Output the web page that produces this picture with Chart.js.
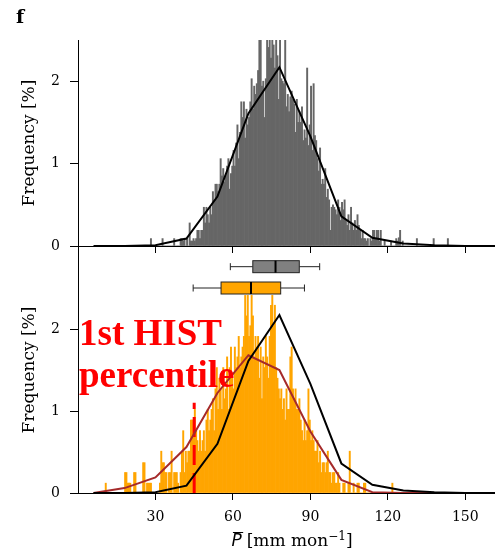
<!DOCTYPE html>
<html>
<head>
<meta charset="utf-8">
<script src="https://cdn.jsdelivr.net/npm/chart.js@4.4.1/dist/chart.umd.min.js"></script>
<style>
    body { margin: 0; background: #fff; }
    #wrap { position: relative; width: 495px; height: 552px; }
    canvas { position: absolute; left: 0; }
    #histTop { top: 0; }
    #histBottom { top: 246px; }
</style>
</head>
<body>
<div id="wrap">
    <canvas id="histTop" width="495" height="262"></canvas>
    <canvas id="histBottom" width="495" height="306"></canvas>
</div>
<script>
// histogram bins (mm/mon), 0.5 wide
const binWidth = 0.5;
const histStart = 27;
const futStart = 10;

// HIST frequencies [%]
const histFreq = [
    0,0, 0.09,0, 0,0, 0,0, 0,0, 0,0.09, 0,0, 0,0, 0,0, 0,0,
    0.09,0, 0,0, 0,0.09, 0.09,0.06, 0.09,0, 0.09,0, 0.28,0.06, 0.06,0.09, 0.06,0.09, 0.19,0.19,
    0.09,0.19, 0.19,0.47, 0.28,0.47, 0.38,0.28, 0.47,0.38, 0.66,0.56, 0.75,0.75, 0.66,0.75, 1.06,0.85, 0.94,0.78,
    0.85,0.97, 1.06,0.69, 0.88,0.97, 1.16,0.97, 1.25,1.47, 1.06,1.38, 1.75,1.56, 1.75,1.31, 1.66,1.47, 1.56,1.75,
    2.03,1.66, 1.94,1.84, 1.97,2.13, 2.5,2.5, 1.94,2.0, 1.56,2.03, 2.5,2.41, 2.5,2.28, 2.5,2.44, 2.16,2.5,
    2.31,1.78, 2.5,2.03, 2.0,1.97, 2.5,1.69, 1.84,1.63, 1.81,1.88, 1.78,1.72, 1.38,1.78, 1.5,1.63, 1.5,1.69,
    1.28,1.41, 1.31,2.16, 1.22,1.47, 1.94,1.16, 1.97,1.34, 1.28,1.06, 0.91,1.19, 0.75,0.81, 0.75,0.94, 0.59,0.69,
    0.56,0.19, 0.47,0.5, 0.47,0.44, 0.38,0.56, 0.47,0.31, 0.53,0.44, 0.56,0.31, 0.25,0.38, 0.19,0.47, 0.28,0.19,
    0.31,0.19, 0.38,0.25, 0.19,0.09, 0.19,0.09, 0.09,0.06, 0.09,0, 0.09,0.06, 0.19,0.19, 0.09,0.19, 0.19,0.06,
    0.19,0, 0,0.06, 0,0, 0,0, 0.06,0, 0,0, 0.09,0.06, 0.1,0.19, 0,0.06, 0,0,
    0,0, 0,0, 0,0, 0,0, 0.09,0, 0,0, 0,0, 0,0, 0,0, 0,0,
    0,0.09, 0,0, 0,0, 0,0, 0,0, 0,0, 0.09,0
];

// future frequencies [%]
const futFreq = [
    0,0.12, 0,0, 0,0, 0,0, 0,0, 0,0, 0,0, 0,0, 0.25,0.25, 0.12,0.12,
    0.12,0, 0,0.25, 0.25,0, 0,0, 0,0, 0.37,0.37, 0,0.12, 0.12,0.12, 0.12,0, 0,0,
    0,0, 0,0.12, 0.51,0.37, 0.37,0.25, 0.25,0, 0.25,0.25, 0.51,0, 0.25,0.25, 0.25,0.12, 0,0.25,
    0.51,0.76, 0.25,0.51, 0.37,0.51, 0.51,0.89, 0.89,0.89, 1.02,0.76, 0.64,0.51, 0.76,0.51, 0.64,0.76, 0.51,0.89,
    1.02,0.76, 0.89,1.02, 1.15,0.76, 1.27,1.53, 1.02,1.4, 1.27,1.02, 1.53,1.15, 1.27,1.66, 1.02,1.53, 1.78,1.4,
    1.27,1.78, 1.53,1.66, 1.91,1.53, 1.66,1.78, 1.91,2.41, 2.16,2.41, 1.91,2.04, 2.41,2.16, 1.66,1.91, 1.78,1.91,
    1.4,1.78, 1.15,1.66, 1.53,1.91, 1.66,1.4, 1.91,2.29, 2.41,2.04, 2.29,1.53, 1.4,1.27, 1.15,1.27, 1.02,1.15,
    0.89,1.27, 1.02,1.02, 1.66,1.78, 1.27,1.15, 1.27,1.02, 1.02,1.15, 0.89,0.76, 0.64,0.89, 0.64,0.76, 1.27,0.89,
    0.64,0.76, 0.64,0.51, 0.51,0.64, 0.37,0.51, 0.25,0.37, 0.37,0.25, 0.37,0.51, 0.25,0.25, 0.12,0.25, 0.25,0.12,
    0.12,0.25, 0.12,0, 0,0.12, 0.12,0, 0,0.12, 0.51,0, 0,0.12, 0,0, 0.12,0.12, 0,0,
    0,0.12, 0.12,0, 0,0, 0,0, 0,0, 0,0, 0,0, 0,0, 0,0, 0,0,
    0,0, 0,0.12
];

// coarse frequency curves
const curveX = [6, 18, 30, 42, 54, 66, 78, 90, 102, 114, 126, 138, 150, 162];
const histCurve = [0, 0, 0.01, 0.09, 0.6, 1.61, 2.17, 1.33, 0.36, 0.1, 0.03, 0.01, 0, 0];
const futCurve = [0, 0.06, 0.19, 0.56, 1.22, 1.68, 1.5, 0.75, 0.16, 0.01, 0, 0, 0, 0];

// boxplots: whisker low, q1, median, q3, whisker high
const boxHist = [59, 67.7, 76.5, 85.7, 93.6];
const boxFut = [44.6, 55.4, 67, 78.5, 87.7];
const boxLevels = [2.76, 2.5];

// 1st percentile of HIST
const p1X = 45;
const p1Top = 1.1;

const xTicks = [30, 60, 90, 120, 150];
const yTicks = [0, 1, 2];

const serif = 'DejaVu Serif';

function histPoints(start, freq) {
    return freq.map((v, i) => ({ x: start + (i + 0.5) * binWidth, y: v }));
}
function curvePoints(vals) {
    return curveX.map((x, i) => ({ x: x, y: vals[i] }));
}

function yAxis(max) {
    return {
        min: 0,
        max: max,
        afterBuildTicks: s => { s.ticks = yTicks.map(v => ({ value: v })); },
        afterFit: s => {
            s.width = 78;
            s.paddingTop = 0;
            s.paddingBottom = 0;
        },
        border: { color: '#000', width: 1 },
        grid: { drawOnChartArea: false, tickLength: 8, tickColor: '#000' },
        ticks: { color: '#000', padding: 10, font: { family: serif, size: 14 } },
        title: {
            display: true,
            text: 'Frequency [%]',
            color: '#000',
            font: { family: serif, size: 17 },
            padding: { top: 19, bottom: 0 }
        }
    };
}

function xAxis(height, showLabels) {
    return {
        type: 'linear',
        min: 0,
        max: 161.5,
        offset: false,
        afterBuildTicks: s => { s.ticks = xTicks.map(v => ({ value: v })); },
        afterFit: s => {
            s.height = height;
            s.paddingLeft = 0;
            s.paddingRight = 0;
        },
        border: { color: '#000', width: 1 },
        grid: { drawOnChartArea: false, offset: false, tickLength: 7, tickColor: '#000' },
        ticks: { display: showLabels, color: '#000', padding: 9, maxRotation: 0, font: { family: serif, size: 14 } }
    };
}

const baseOptions = {
    animation: false,
    responsive: false,
    devicePixelRatio: 1,
    plugins: { legend: { display: false }, tooltip: { enabled: false } }
};

const panelLabel = {
    id: 'panelLabel',
    afterDraw(chart) {
        const ctx = chart.ctx;
        ctx.save();
        ctx.fillStyle = '#000';
        ctx.font = 'bold 19px "DejaVu Serif"';
        ctx.textBaseline = 'alphabetic';
        ctx.fillText('f', 16, 23);
        ctx.restore();
    }
};

new Chart(document.getElementById('histTop'), {
    type: 'bar',
    data: {
        datasets: [
            {
                type: 'line',
                data: curvePoints(histCurve),
                borderColor: '#000',
                borderWidth: 2,
                pointRadius: 0,
                tension: 0,
                order: 1
            },
            {
                type: 'bar',
                data: histPoints(histStart, histFreq),
                backgroundColor: '#666666',
                borderWidth: 0,
                barPercentage: 1,
                categoryPercentage: 1,
                order: 2
            }
        ]
    },
    options: Object.assign({}, baseOptions, {
        layout: { padding: { top: 40, left: 0, right: 0, bottom: 0 } },
        scales: { x: xAxis(16, false), y: yAxis(2.5) }
    }),
    plugins: [panelLabel]
});

const boxes = {
    id: 'boxes',
    afterDatasetsDraw(chart) {
        const ctx = chart.ctx;
        const xs = chart.scales.x;
        const ys = chart.scales.y;
        const draw = (stats, level, fill) => {
            const y = ys.getPixelForValue(level);
            const [lo, q1, med, q3, hi] = stats.map(v => xs.getPixelForValue(v));
            ctx.strokeStyle = '#222';
            ctx.lineWidth = 1;
            ctx.beginPath();
            ctx.moveTo(lo, y); ctx.lineTo(q1, y);
            ctx.moveTo(q3, y); ctx.lineTo(hi, y);
            ctx.moveTo(lo, y - 3.5); ctx.lineTo(lo, y + 3.5);
            ctx.moveTo(hi, y - 3.5); ctx.lineTo(hi, y + 3.5);
            ctx.stroke();
            ctx.fillStyle = fill;
            ctx.fillRect(q1, y - 6, q3 - q1, 12);
            ctx.strokeRect(q1, y - 6, q3 - q1, 12);
            ctx.strokeStyle = '#000';
            ctx.lineWidth = 2;
            ctx.beginPath();
            ctx.moveTo(med, y - 6); ctx.lineTo(med, y + 6);
            ctx.stroke();
        };
        ctx.save();
        draw(boxHist, boxLevels[0], '#808080');
        draw(boxFut, boxLevels[1], '#FFA500');
        ctx.restore();
    },
    afterDraw(chart) {
        const ctx = chart.ctx;
        ctx.save();
        // annotation
        ctx.fillStyle = '#FF0000';
        ctx.font = 'bold 37px "Liberation Serif"';
        ctx.textBaseline = 'alphabetic';
        ctx.fillText('1st HIST', 79, 99);
        ctx.fillText('percentile', 79, 141);

        // x title: P-bar [mm mon^-1]
        const a = chart.chartArea;
        const base = 300;
        const parts = [
            { t: 'P', f: 'italic 17px "DejaVu Sans"', dy: 0, gap: 5 },
            { t: '[mm mon', f: '17px "DejaVu Serif"', dy: 0, gap: 0 },
            { t: '\u22121', f: '12px "DejaVu Serif"', dy: -6, gap: 0 },
            { t: ']', f: '17px "DejaVu Serif"', dy: 0, gap: 0 }
        ];
        let total = 0;
        parts.forEach(p => { ctx.font = p.f; p.w = ctx.measureText(p.t).width; total += p.w + p.gap; });
        let x = (a.left + a.right) / 2 + 5.5 - total / 2;
        ctx.fillStyle = '#000';
        parts.forEach((p, i) => {
            ctx.font = p.f;
            ctx.fillText(p.t, x, base + p.dy);
            if (i === 0) {
                ctx.strokeStyle = '#000';
                ctx.lineWidth = 1;
                ctx.beginPath();
                ctx.moveTo(x + 1.5, base - 13.5);
                ctx.lineTo(x + p.w + 1.5, base - 13.5);
                ctx.stroke();
            }
            x += p.w + p.gap;
        });
        ctx.restore();
    }
};

new Chart(document.getElementById('histBottom'), {
    type: 'bar',
    data: {
        datasets: [
            {
                type: 'line',
                data: curvePoints(histCurve),
                borderColor: '#000',
                borderWidth: 2,
                pointRadius: 0,
                tension: 0,
                order: 1
            },
            {
                type: 'line',
                data: curvePoints(futCurve),
                borderColor: '#A52A2A',
                borderWidth: 2,
                pointRadius: 0,
                tension: 0,
                order: 2
            },
            {
                type: 'line',
                data: [{ x: p1X, y: 0 }, { x: p1X, y: p1Top }],
                borderColor: '#FF0000',
                borderWidth: 3,
                borderDash: [20, 8],
                pointRadius: 0,
                order: 3
            },
            {
                type: 'bar',
                data: histPoints(futStart, futFreq),
                backgroundColor: '#FFA500',
                borderWidth: 0,
                barPercentage: 1,
                categoryPercentage: 1,
                order: 4
            }
        ]
    },
    options: Object.assign({}, baseOptions, {
        layout: { padding: { top: 1, left: 0, right: 0, bottom: 0 } },
        scales: { x: xAxis(59, true), y: yAxis(3) }
    }),
    plugins: [boxes]
});
</script>
</body>
</html>
